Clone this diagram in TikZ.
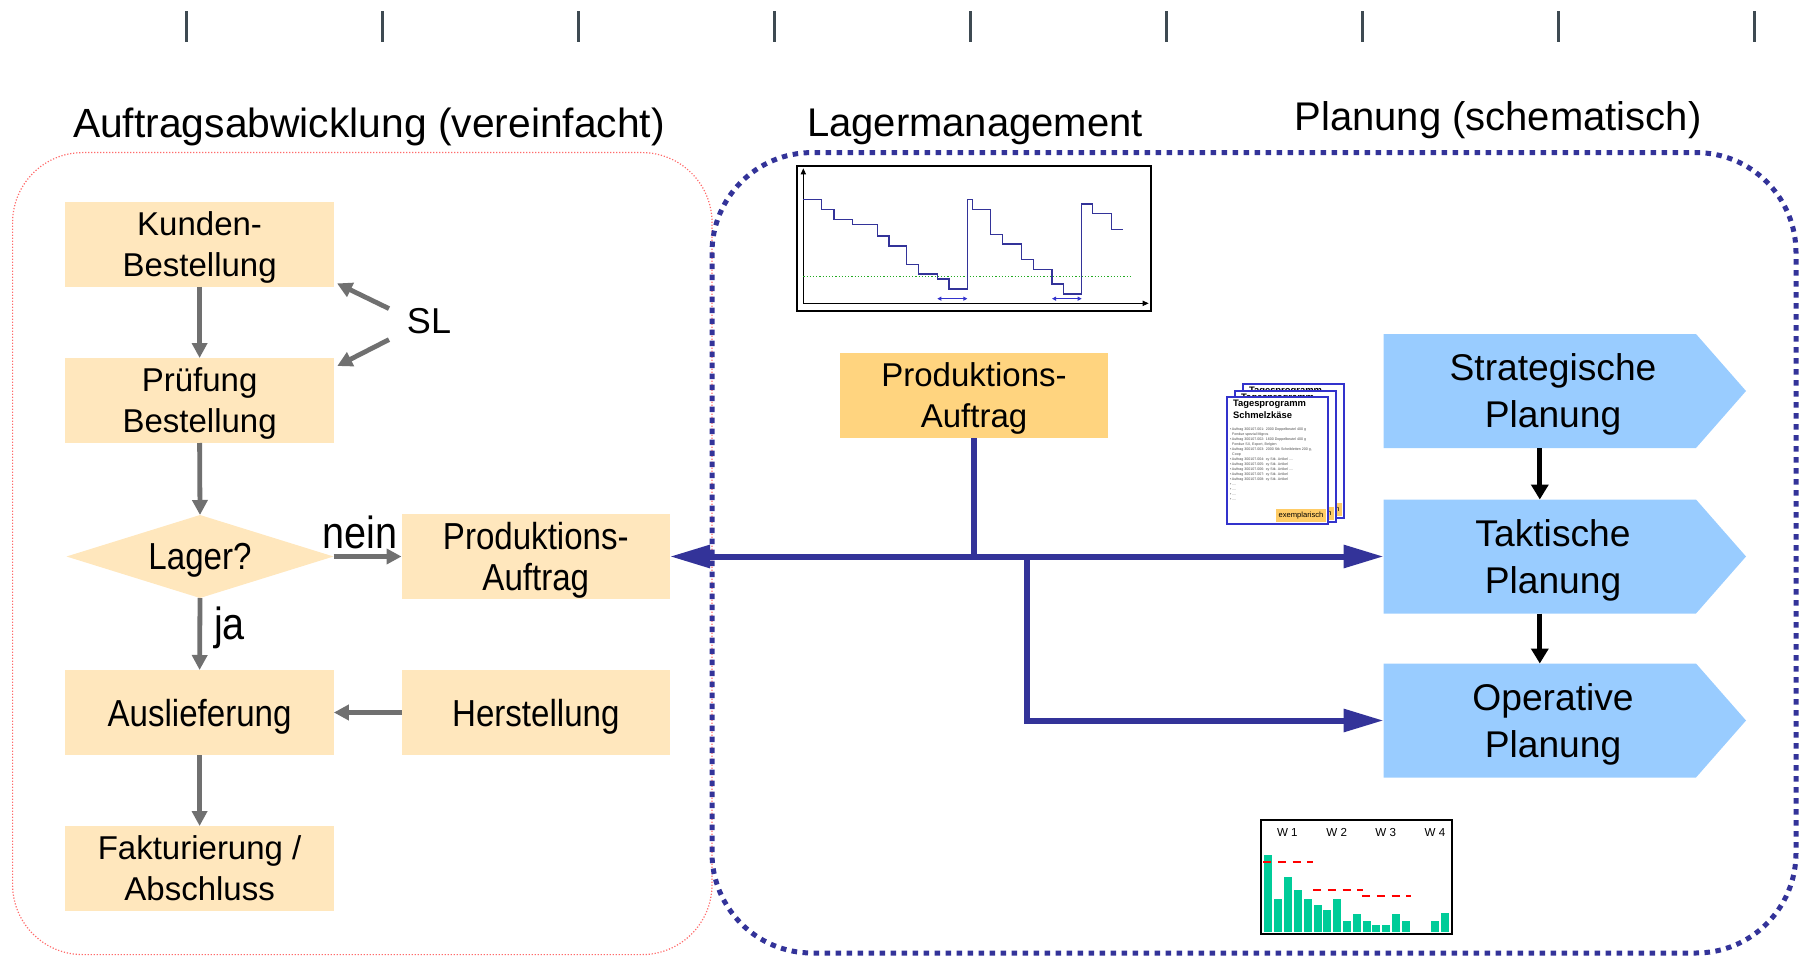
\documentclass[tikz,border=0pt]{standalone}
\usepackage{fontspec}
\setmainfont{Liberation Sans}
\newfontfamily\condf[FakeStretch=0.88]{Liberation Sans}
\usetikzlibrary{arrows.meta,shapes.geometric,calc}
\definecolor{boxor}{HTML}{FFE7BD}
\definecolor{boxord}{HTML}{FFD47F}
\definecolor{labor}{HTML}{FFCC66}
\definecolor{chevb}{HTML}{99CCFF}
\definecolor{navy}{HTML}{333399}
\definecolor{pageb}{HTML}{3333CC}
\definecolor{tickc}{HTML}{3E4A52}
\definecolor{grayarr}{HTML}{707070}
\definecolor{redf}{HTML}{FF6B6B}
\definecolor{barg}{HTML}{00CC99}
\definecolor{greend}{HTML}{22AA22}
\begin{document}
\begin{tikzpicture}[x=0.5pt,y=-0.5pt,
  every node/.style={inner sep=0pt, outer sep=0pt},
  obox/.style={fill=boxor, minimum width=134.25pt, minimum height=42.5pt, align=center, text depth=0pt, font=\fontsize{16.5}{20.5}\selectfont},
  cbox/.style={obox, font=\condf\fontsize{18.8}{20.5}\selectfont},
  chev/.style={minimum width=156.2pt, minimum height=57pt},
  chevtext/.style={align=center, text depth=0pt, font=\fontsize{18.6}{23.5}\selectfont},
  titletext/.style={font=\fontsize{20}{24}\selectfont},
  garr/.style={draw=grayarr, line width=2.4pt, -{Triangle[length=7.5pt,width=7.5pt]}},
  barr/.style={draw=black, line width=2.5pt, -{Triangle[length=7.5pt,width=8.5pt]}},
  bline/.style={draw=navy, line width=3pt},
  tickline/.style={draw=tickc, line width=1.5pt},
  docpage/.style={fill=white, draw=pageb, line width=0.8pt},
  doctitle/.style={anchor=north west, align=left, font=\bfseries\fontsize{4.7}{6.25}\selectfont},
  exlabel/.style={fill=labor, anchor=south east, minimum width=25pt, minimum height=6.5pt, font=\fontsize{3.8}{4}\selectfont}
]
\useasboundingbox (0,0) rectangle (1799,957);

% ticks
\foreach \x in {186,382,578,774,970,1166,1362,1558,1754}
  \draw[tickline] (\x,11.5) -- (\x,42.5);

% titles
\node[titletext, font=\fontsize{20.4}{24}\selectfont] (t1) at (369,126.5) {Auftragsabwicklung (vereinfacht)};
\node[titletext] (t2) at (975,126.5) {Lagermanagement};
\node[titletext] (t3) at (1498,120) {Planung (schematisch)};

% frames
\draw[redf, line width=0.6pt, dash pattern=on 0.6pt off 0.9pt, rounded corners=35pt] (12.6,152.6) rectangle (712,954.6);
\draw[navy, line width=2.5pt, dash pattern=on 2.75pt off 2.75pt, rounded corners=50pt] (712,152.6) rectangle (1796,953);

% left process
\node[obox] (kb) at (199.6,244.5) {Kunden-\\Bestellung};
\node[obox] (pb) at (199.6,400.5) {Prüfung\\Bestellung};
\node[diamond, fill=boxor, minimum width=133.5pt, minimum height=41.5pt, aspect=3.2, text depth=0pt, font=\condf\fontsize{18.8}{20.5}\selectfont] (lag) at (200,556.5) {Lager?};
\node[cbox] (pal) at (535.8,556.5) {Produktions-\\Auftrag};
\node[cbox] (aus) at (199.6,712.5) {Auslieferung};
\node[cbox] (her) at (535.8,712.5) {Herstellung};
\node[obox] (fak) at (199.6,868.5) {Fakturierung /\\Abschluss};

\node[font=\fontsize{18}{18}\selectfont] (sl) at (429,321) {SL};
\node[font=\condf\fontsize{22.5}{24}\selectfont] (nein) at (360,532) {nein};
\node[font=\condf\fontsize{22.5}{24}\selectfont] (ja) at (229.5,627.5) {ja};

\draw[garr] (kb.south) -- (pb.north);
\draw[garr] (pb.south) -- (lag.north);
\draw[garr] (lag.south) -- (aus.north);
\draw[garr] (lag.east) -- (pal.west);
\draw[garr] (her.west) -- (aus.east);
\draw[garr] (aus.south) -- (fak.north);
\draw[garr] ([xshift=-9pt,yshift=6.2pt]sl.west) -- ([xshift=1.6pt,yshift=1.8pt]kb.south east);
\draw[garr] ([xshift=-9pt,yshift=-9.3pt]sl.west) -- ([xshift=1.7pt,yshift=-4pt]pb.north east);

% stock chart
\begin{scope}[xshift=390pt, yshift=-75pt, x=0.16667pt, y=-0.16667pt]
  \draw[black, line width=1.1pt] (52,48) rectangle (1112,482);
  \draw[black, line width=0.5pt, -{Triangle[length=3pt,width=2.6pt]}] (70,460) -- (70,55);
  \draw[black, line width=0.5pt, -{Triangle[length=3pt,width=2.6pt]}] (70,460) -- (1106,460);
  \draw[greend, line width=0.6pt, dash pattern=on 0.6pt off 1pt] (70,380) -- (1055,380);
  \draw[navy, line width=0.7pt] (70,148) -| (125,178) -| (162,208) -| (218,223) -| (292,258) -| (327,288) -| (380,343) -| (415,372) -| (472,387) -| (507,417) -| (562,148) -| (577,178) -| (632,253) -| (667,282) -| (724,328) -| (760,358) -| (816,402) -| (850,432) -| (905,162) -| (938,191) -| (995,239) -- (1030,239);
  \draw[pageb, line width=0.5pt, {Triangle[length=2pt,width=2pt]}-{Triangle[length=2pt,width=2pt]}] (472,446) -- (562,446);
  \draw[pageb, line width=0.5pt, {Triangle[length=2pt,width=2pt]}-{Triangle[length=2pt,width=2pt]}] (816,446) -- (905,446);
\end{scope}

% central production order
\node[obox, fill=boxord] (pac) at (974,395.5) {Produktions-\\Auftrag};

% document stack
\draw[docpage] (1243,384) rectangle (1344,518);
\node[doctitle] (d1t) at (1249,387) {Tagesprogramm\\Schmelzkäse};
\node[exlabel] (d1l) at (1342,516) {exemplarisch};
\draw[docpage] (1235,391) rectangle (1336,522);
\node[doctitle] (d2t) at (1241,394) {Tagesprogramm\\Schmelzkäse};
\node[exlabel] (d2l) at (1334,520) {exemplarisch};
\draw[docpage] (1227,397) rectangle (1328,524);
\node[doctitle] (d3t) at (1233,400) {Tagesprogramm\\Schmelzkäse};
\node[exlabel] (d3l) at (1326,522) {exemplarisch};
\node[anchor=north west, align=left, text=black!70, font=\fontsize{1.8}{2.5}\selectfont] (d3b) at (1230,428) {%
•\,Auftrag 300107.001: 2000 Doppelbeutel 400 g\\
\hspace*{1.1pt}Fondue spezial Migros\\
•\,Auftrag 300107.002: 1600 Doppelbeutel 400 g\\
\hspace*{1.1pt}Fondue SX, Export, Belgien\\
•\,Auftrag 300107.003: 2000 Stk Scheibletten 200 g,\\
\hspace*{1.1pt}Coop\\
•\,Auftrag 300107.004: xy Stk. Artikel ....\\
•\,Auftrag 300107.005: xy Stk. Artikel\\
•\,Auftrag 300107.006: xy Stk. Artikel ....\\
•\,Auftrag 300107.007: xy Stk. Artikel\\
•\,Auftrag 300107.008: xy Stk. Artikel\\
•\,....\\
•\,....\\
•\,....\\
•\,....};

% chevrons
\node[chev] (strat) at (1539.8,391) {};
\node[chev] (takt) at (1539.8,556.5) {};
\node[chev] (oper) at (1539.8,720.5) {};
\foreach \n in {strat,takt,oper}
  \fill[chevb] (\n.north west) -- (\n.north east) -- ([xshift=25pt]\n.east) -- (\n.south east) -- (\n.south west) -- cycle;
\node[chevtext] (stratT) at (1553,391) {Strategische\\Planung};
\node[chevtext] (taktT) at (1553,556.5) {Taktische\\Planung};
\node[chevtext] (operT) at (1553,720.5) {Operative\\Planung};
\draw[barr] (strat.south) -- (takt.north);
\draw[barr] (takt.south) -- (oper.north);

% blue flow lines
\draw[bline, {Triangle[length=20pt,width=11pt]}-{Triangle[length=20pt,width=11pt]}] (pal.east) -- (takt.west);
\draw[bline] (pac.south) -- (pac.south |- pal.east);
\coordinate (br) at (1027,556.5);
\draw[bline, -{Triangle[length=20pt,width=11pt]}] (br) |- (oper.west);

% bar chart
\begin{scope}[xshift=625pt, yshift=-405pt, x=0.16667pt, y=-0.16667pt]
  \foreach \l/\t in {42/135,72/267,102/201,132/240,162/267,192/285,219/300,249/267,279/333,309/312,339/333,366/345,396/345,426/312,456/333,543/333,573/309}
    \fill[barg] (\l,365) rectangle (\l+24,\t);
  \draw[black, line width=1pt] (33,30) rectangle (607,372);
  \draw[red, line width=1pt, dash pattern=on 4pt off 3.3pt] (40,155) -- (190,155);
  \draw[red, line width=1pt, dash pattern=on 4pt off 3.3pt] (190,240) -- (340,240);
  \draw[red, line width=1pt, dash pattern=on 4pt off 3.3pt] (337,258) -- (483,258);
  \node[font=\fontsize{5.8}{6}\selectfont] (w1) at (112,68) {W 1};
  \node[font=\fontsize{5.8}{6}\selectfont] (w2) at (260,68) {W 2};
  \node[font=\fontsize{5.8}{6}\selectfont] (w3) at (407,68) {W 3};
  \node[font=\fontsize{5.8}{6}\selectfont] (w4) at (555,68) {W 4};
\end{scope}
\end{tikzpicture}
\end{document}
